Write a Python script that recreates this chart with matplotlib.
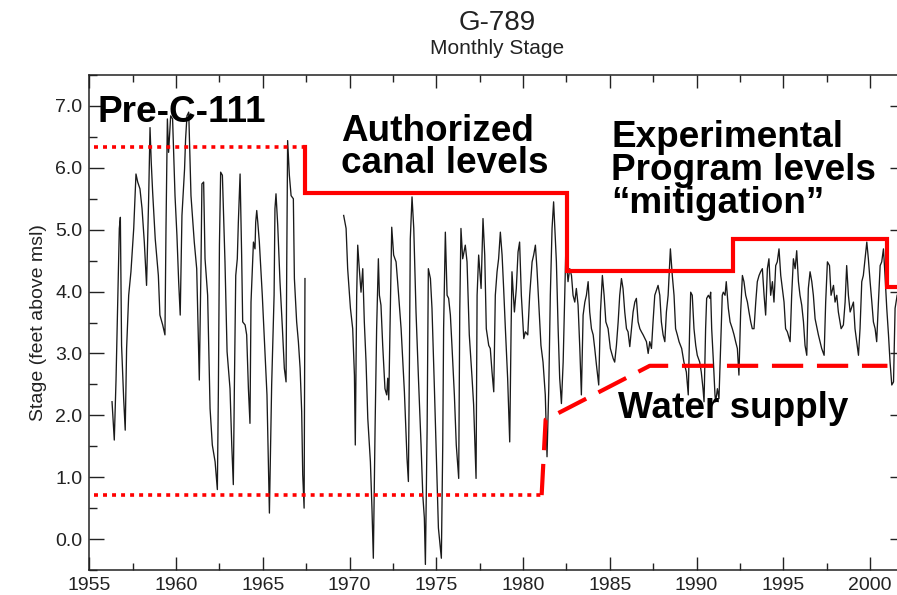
import numpy as np
import matplotlib.pyplot as plt
from matplotlib.ticker import MultipleLocator

# monthly stage (turning points), NaN = gap in record
years = [
    1956.31, 1956.44, 1956.54, 1956.63, 1956.73, 1956.79, 1956.86, 1956.98, 1957.07, 1957.15,
    1957.27, 1957.40, 1957.56, 1957.69, 1957.79, 1957.92, 1958.04, 1958.17, 1958.30, 1958.42,
    1958.50, 1958.57, 1958.65, 1958.80, 1958.98, 1959.07, 1959.23, 1959.36, 1959.42, 1959.50,
    1959.57, 1959.69, 1959.80, 1959.94, 1960.05, 1960.15, 1960.24, 1960.34, 1960.49, 1960.55,
    1960.63, 1960.73, 1960.86, 1961.05, 1961.19, 1961.30, 1961.34, 1961.44, 1961.49, 1961.59,
    1961.67, 1961.82, 1961.90, 1961.96, 1962.09, 1962.25, 1962.38, 1962.44, 1962.50, 1962.57,
    1962.67, 1962.82, 1962.94, 1963.11, 1963.21, 1963.30, 1963.36, 1963.44, 1963.53, 1963.59,
    1963.69, 1963.78, 1963.84, 1963.98, 1964.07, 1964.17, 1964.26, 1964.32, 1964.46, 1964.55,
    1964.59, 1964.65, 1964.71, 1964.80, 1964.97, 1965.13, 1965.24, 1965.32, 1965.38, 1965.45,
    1965.51, 1965.65, 1965.70, 1965.76, 1965.86, 1965.99, 1966.13, 1966.24, 1966.34, 1966.38,
    1966.43, 1966.53, 1966.63, 1966.76, 1966.82, 1966.95, 1967.05, 1967.15, 1967.24, 1967.30,
    1967.38, 1967.43, 1968.50,
    1969.66, 1969.80, 1969.89, 1970.05, 1970.18, 1970.28, 1970.33, 1970.41, 1970.47, 1970.56,
    1970.66, 1970.76, 1970.85, 1970.95, 1971.05, 1971.20, 1971.29, 1971.37, 1971.47, 1971.56,
    1971.66, 1971.72, 1971.81, 1971.91, 1972.04, 1972.14, 1972.20, 1972.26, 1972.33, 1972.43,
    1972.54, 1972.68, 1972.77, 1972.97, 1973.16, 1973.31, 1973.39, 1973.45, 1973.50, 1973.60,
    1973.70, 1973.83, 1973.97, 1974.12, 1974.22, 1974.31, 1974.37, 1974.47, 1974.54, 1974.66,
    1974.75, 1974.89, 1975.04, 1975.12, 1975.29, 1975.37, 1975.42, 1975.52, 1975.62, 1975.71,
    1975.81, 1975.90, 1976.04, 1976.15, 1976.29, 1976.35, 1976.42, 1976.52, 1976.67, 1976.77,
    1976.90, 1977.06, 1977.15, 1977.29, 1977.35, 1977.44, 1977.58, 1977.69, 1977.79, 1977.88,
    1978.02, 1978.11, 1978.21, 1978.31, 1978.40, 1978.50, 1978.59, 1978.69, 1978.79, 1978.88,
    1978.98, 1979.11, 1979.23, 1979.31, 1979.36, 1979.50, 1979.61, 1979.71, 1979.80, 1979.90,
    1980.04, 1980.13, 1980.27, 1980.38, 1980.52, 1980.61, 1980.71, 1980.80, 1980.90, 1981.03,
    1981.15, 1981.28, 1981.38, 1981.48, 1981.57, 1981.67, 1981.76, 1981.83, 1981.92, 1982.02,
    1982.11, 1982.21, 1982.31, 1982.40, 1982.46, 1982.59, 1982.69, 1982.79, 1982.88, 1982.98,
    1983.07, 1983.17, 1983.27, 1983.36, 1983.46, 1983.56, 1983.65, 1983.75, 1983.84, 1983.94,
    1984.04, 1984.13, 1984.23, 1984.36, 1984.46, 1984.57, 1984.67, 1984.77, 1984.90, 1985.03,
    1985.19, 1985.28, 1985.38, 1985.48, 1985.57, 1985.67, 1985.76, 1985.86, 1985.96, 1986.05,
    1986.15, 1986.34, 1986.44, 1986.53, 1986.63, 1986.73, 1986.82, 1986.92, 1987.11, 1987.21,
    1987.30, 1987.40, 1987.49, 1987.59, 1987.78, 1987.88, 1987.97, 1988.07, 1988.17, 1988.26,
    1988.36, 1988.49, 1988.60, 1988.70, 1988.79, 1988.89, 1988.99, 1989.14, 1989.27, 1989.41,
    1989.52, 1989.60, 1989.66, 1989.75, 1989.85, 1989.95, 1990.04, 1990.18, 1990.27, 1990.37,
    1990.43, 1990.52, 1990.58, 1990.68, 1990.77, 1990.81, 1990.87, 1990.97, 1991.06, 1991.10,
    1991.20, 1991.29, 1991.39, 1991.48, 1991.54, 1991.64, 1991.71, 1991.83, 1991.93, 1992.06,
    1992.16, 1992.25, 1992.35, 1992.44, 1992.54, 1992.64, 1992.73, 1992.83, 1992.93, 1993.02,
    1993.12, 1993.21, 1993.31, 1993.41, 1993.50, 1993.60, 1993.69, 1993.79, 1993.89, 1993.98,
    1994.08, 1994.17, 1994.27, 1994.37, 1994.46, 1994.56, 1994.65, 1994.75, 1994.85, 1994.94,
    1995.04, 1995.13, 1995.23, 1995.39, 1995.48, 1995.58, 1995.68, 1995.77, 1995.87, 1995.96,
    1996.06, 1996.16, 1996.25, 1996.35, 1996.44, 1996.54, 1996.64, 1996.73, 1996.83, 1997.02,
    1997.21, 1997.35, 1997.44, 1997.54, 1997.66, 1997.75, 1997.89, 1997.98, 1998.08, 1998.17,
    1998.33, 1998.46, 1998.56, 1998.65, 1998.75, 1998.85, 1999.04, 1999.13, 1999.23, 1999.33,
    1999.42, 1999.52, 1999.61, 1999.71, 1999.81, 1999.90, 2000.00, 2000.10, 2000.19, 2000.29,
    2000.38, 2000.48, 2000.58, 2000.67, 2000.77, 2000.86, 2000.96, 2001.06, 2001.15, 2001.25,
    2001.35, 2001.44, 2001.56,
]
stage = [
    2.22, 1.60, 2.57, 3.73, 5.02, 5.20, 3.13, 2.27, 1.76, 3.08,
    3.94, 4.32, 5.02, 5.90, 5.77, 5.66, 5.34, 4.80, 4.10, 5.50,
    6.65, 6.09, 5.61, 4.85, 4.26, 3.62, 3.46, 3.30, 5.02, 6.79,
    6.25, 6.84, 6.79, 5.55, 4.91, 4.16, 3.62, 5.23, 5.98, 6.47,
    6.84, 6.90, 5.55, 4.80, 4.37, 3.03, 2.57, 4.48, 5.74, 5.77,
    4.53, 3.94, 2.86, 2.11, 1.52, 1.25, 0.80, 2.43, 4.75, 5.93,
    5.88, 4.48, 3.03, 2.43, 1.52, 0.88, 2.43, 4.26, 4.53, 5.12,
    5.90, 4.59, 3.51, 3.46, 3.30, 2.43, 1.87, 3.83, 4.80, 4.69,
    5.12, 5.31, 5.12, 4.80, 3.94, 2.97, 2.33, 1.25, 0.42, 1.52,
    2.49, 3.94, 5.34, 5.58, 5.07, 4.16, 3.40, 2.76, 2.54, 4.48,
    6.44, 5.88, 5.55, 5.50, 4.21, 3.51, 3.19, 2.76, 2.06, 1.04,
    0.50, 4.21, np.nan,
    5.23, 5.02, 4.37, 3.73, 3.40, 2.65, 1.52, 3.94, 4.75, 4.37,
    3.99, 4.37, 3.51, 2.86, 1.95, 1.25, 0.50, -0.31, 1.79, 3.40,
    4.53, 3.94, 3.78, 3.13, 2.43, 2.33, 2.60, 2.25, 3.40, 5.04,
    4.59, 4.48, 4.16, 3.40, 2.38, 1.31, 0.93, 2.86, 4.85, 5.53,
    5.02, 3.67, 2.60, 1.52, 0.71, 0.34, -0.41, 1.79, 4.37, 4.21,
    3.73, 2.43, 0.93, 0.18, -0.31, 1.52, 3.40, 4.96, 3.94, 3.89,
    3.62, 3.13, 2.33, 1.52, 0.98, 3.67, 5.02, 4.53, 4.75, 4.48,
    3.30, 2.60, 2.17, 0.98, 3.94, 4.59, 4.05, 5.18, 4.59, 3.40,
    3.13, 3.08, 2.70, 2.38, 3.94, 4.32, 4.53, 4.96, 4.59, 4.05,
    3.40, 2.60, 1.57, 3.40, 4.32, 3.67, 4.05, 4.64, 4.80, 3.94,
    3.24, 3.35, 3.30, 3.94, 4.48, 4.59, 4.75, 4.37, 3.83, 3.13,
    2.86, 2.33, 1.33, 2.43, 3.94, 5.02, 5.45, 5.02, 4.48, 3.40,
    2.60, 2.19, 2.86, 3.94, 4.64, 4.16, 4.37, 4.26, 3.94, 3.83,
    4.05, 3.78, 3.08, 2.33, 3.62, 3.83, 3.94, 4.16, 3.67, 3.40,
    3.30, 3.08, 2.81, 2.49, 3.67, 4.26, 3.94, 3.51, 3.40, 3.08,
    2.92, 2.86, 3.13, 3.51, 3.94, 4.21, 4.05, 3.67, 3.40, 3.35,
    3.11, 3.67, 3.83, 3.89, 3.51, 3.40, 3.35, 3.30, 3.19, 3.00,
    3.19, 3.08, 3.51, 3.94, 4.10, 3.94, 3.51, 3.30, 3.19, 3.67,
    3.94, 4.69, 4.26, 3.94, 3.40, 3.30, 3.19, 3.08, 2.86, 2.70,
    2.33, 3.40, 3.99, 3.94, 3.40, 3.13, 2.97, 2.86, 2.70, 2.43,
    2.22, 3.40, 3.89, 3.94, 3.89, 3.99, 3.40, 2.86, 2.33, 2.22,
    2.43, 2.27, 3.13, 3.94, 3.99, 3.94, 4.16, 3.73, 3.51, 3.40,
    3.30, 3.19, 3.08, 2.65, 3.67, 4.26, 4.16, 3.94, 3.83, 3.67,
    3.51, 3.40, 3.40, 3.83, 4.16, 4.26, 4.32, 4.37, 3.94, 3.62,
    4.37, 4.53, 3.94, 4.16, 3.83, 4.42, 4.48, 4.69, 4.26, 4.05,
    3.83, 3.40, 3.35, 3.19, 3.94, 4.53, 4.37, 4.66, 4.16, 3.94,
    3.78, 3.51, 3.13, 2.97, 4.05, 4.32, 4.16, 3.94, 3.56, 3.30,
    3.08, 2.97, 3.83, 4.48, 4.42, 3.94, 4.10, 3.83, 3.94, 3.67,
    3.40, 3.46, 3.83, 4.42, 3.94, 3.67, 3.83, 3.40, 3.19, 2.97,
    3.40, 4.16, 4.26, 4.53, 4.80, 4.53, 4.16, 3.83, 3.51, 3.40,
    3.19, 3.83, 4.42, 4.48, 4.69, 4.26, 3.73, 3.30, 2.86, 2.49,
    2.54, 3.73, 3.94,
]

# regulation lines
pre_high_x = [1955.25, 1967.45]
pre_high_y = [6.33, 6.33]
pre_low_x = [1955.25, 1981.07]
pre_low_y = [0.71, 0.71]
auth_x = [1967.45, 1967.45, 1982.55, 1982.55, 1992.1, 1992.1, 2001.0, 2001.0, 2002.0]
auth_y = [6.33, 5.59, 5.59, 4.33, 4.33, 4.85, 4.85, 4.07, 4.07]
supply_x = [1981.07, 1981.3, 1987.3, 2001.0]
supply_y = [0.71, 1.93, 2.80, 2.80]

W, H = 897, 595
fig = plt.figure(figsize=(W / 100, H / 100), dpi=100)
plt.rcParams['font.family'] = ['Liberation Sans', 'DejaVu Sans']

# right spine sits just off the picture, like the source
ax = fig.add_axes([89.3 / W, 25 / H, (904.8 - 89.3) / W, 495 / H])
ax.plot(years, stage, color='#1a1a1a', lw=0.95)

red = '#ff0000'
ax.plot(pre_high_x, pre_high_y, color=red, lw=2.6, dashes=(1.1, 1.4), dash_capstyle='butt')
ax.plot(pre_low_x, pre_low_y, color=red, lw=2.6, dashes=(1.1, 1.4), dash_capstyle='butt')
ax.plot(auth_x, auth_y, color=red, lw=3.0, solid_joinstyle='miter')
ax.plot(supply_x, supply_y, color=red, lw=3.0, dashes=(7.5, 3.3))

ax.set_xlim(1955, 2002)
ax.set_ylim(-0.5, 7.5)
ax.xaxis.set_major_locator(MultipleLocator(5))
ax.xaxis.set_minor_locator(MultipleLocator(2.5))
ax.yaxis.set_major_locator(MultipleLocator(1))
ax.yaxis.set_minor_locator(MultipleLocator(0.5))
ax.yaxis.set_major_formatter('{x:.1f}')
ax.tick_params(which='both', direction='in', top=True, right=True, width=1.0,
               labelsize=14, colors='#222222', pad=5)
ax.tick_params(axis='y', which='major', length=11)
ax.tick_params(axis='y', which='minor', length=5.5)
ax.tick_params(axis='x', which='major', length=9.5)
ax.tick_params(axis='x', which='minor', length=5)
for s in ax.spines.values():
    s.set_linewidth(1.1)
    s.set_color('#222222')
ax.set_ylabel('Stage (feet above msl)', fontsize=14, labelpad=6, color='#222222')

# titles
cx = (89.3 + 904.8) / 2 / W
fig.text(cx, 1 - 30 / H, 'G-789', ha='center', va='baseline', fontsize=20, color='#222222')
fig.text(cx, 1 - 54 / H, 'Monthly Stage', ha='center', va='baseline', fontsize=15, color='#222222')

# annotations, positioned by baseline in pixels
notes = [
    ('Pre-C-111', 97, 122),
    ('Authorized', 341, 140.7),
    ('canal levels', 341, 173.3),
    ('Experimental', 611, 147.3),
    ('Program levels', 611, 180),
    ('\u201cmitigation\u201d', 611, 213.3),
    ('Water supply', 618, 418),
]
for txt, px, py in notes:
    fig.text(px / W, 1 - py / H, txt, ha='left', va='baseline', fontsize=26.6,
             fontweight='bold', color='black')

fig.savefig('out.png', dpi=100)
plt.close(fig)
